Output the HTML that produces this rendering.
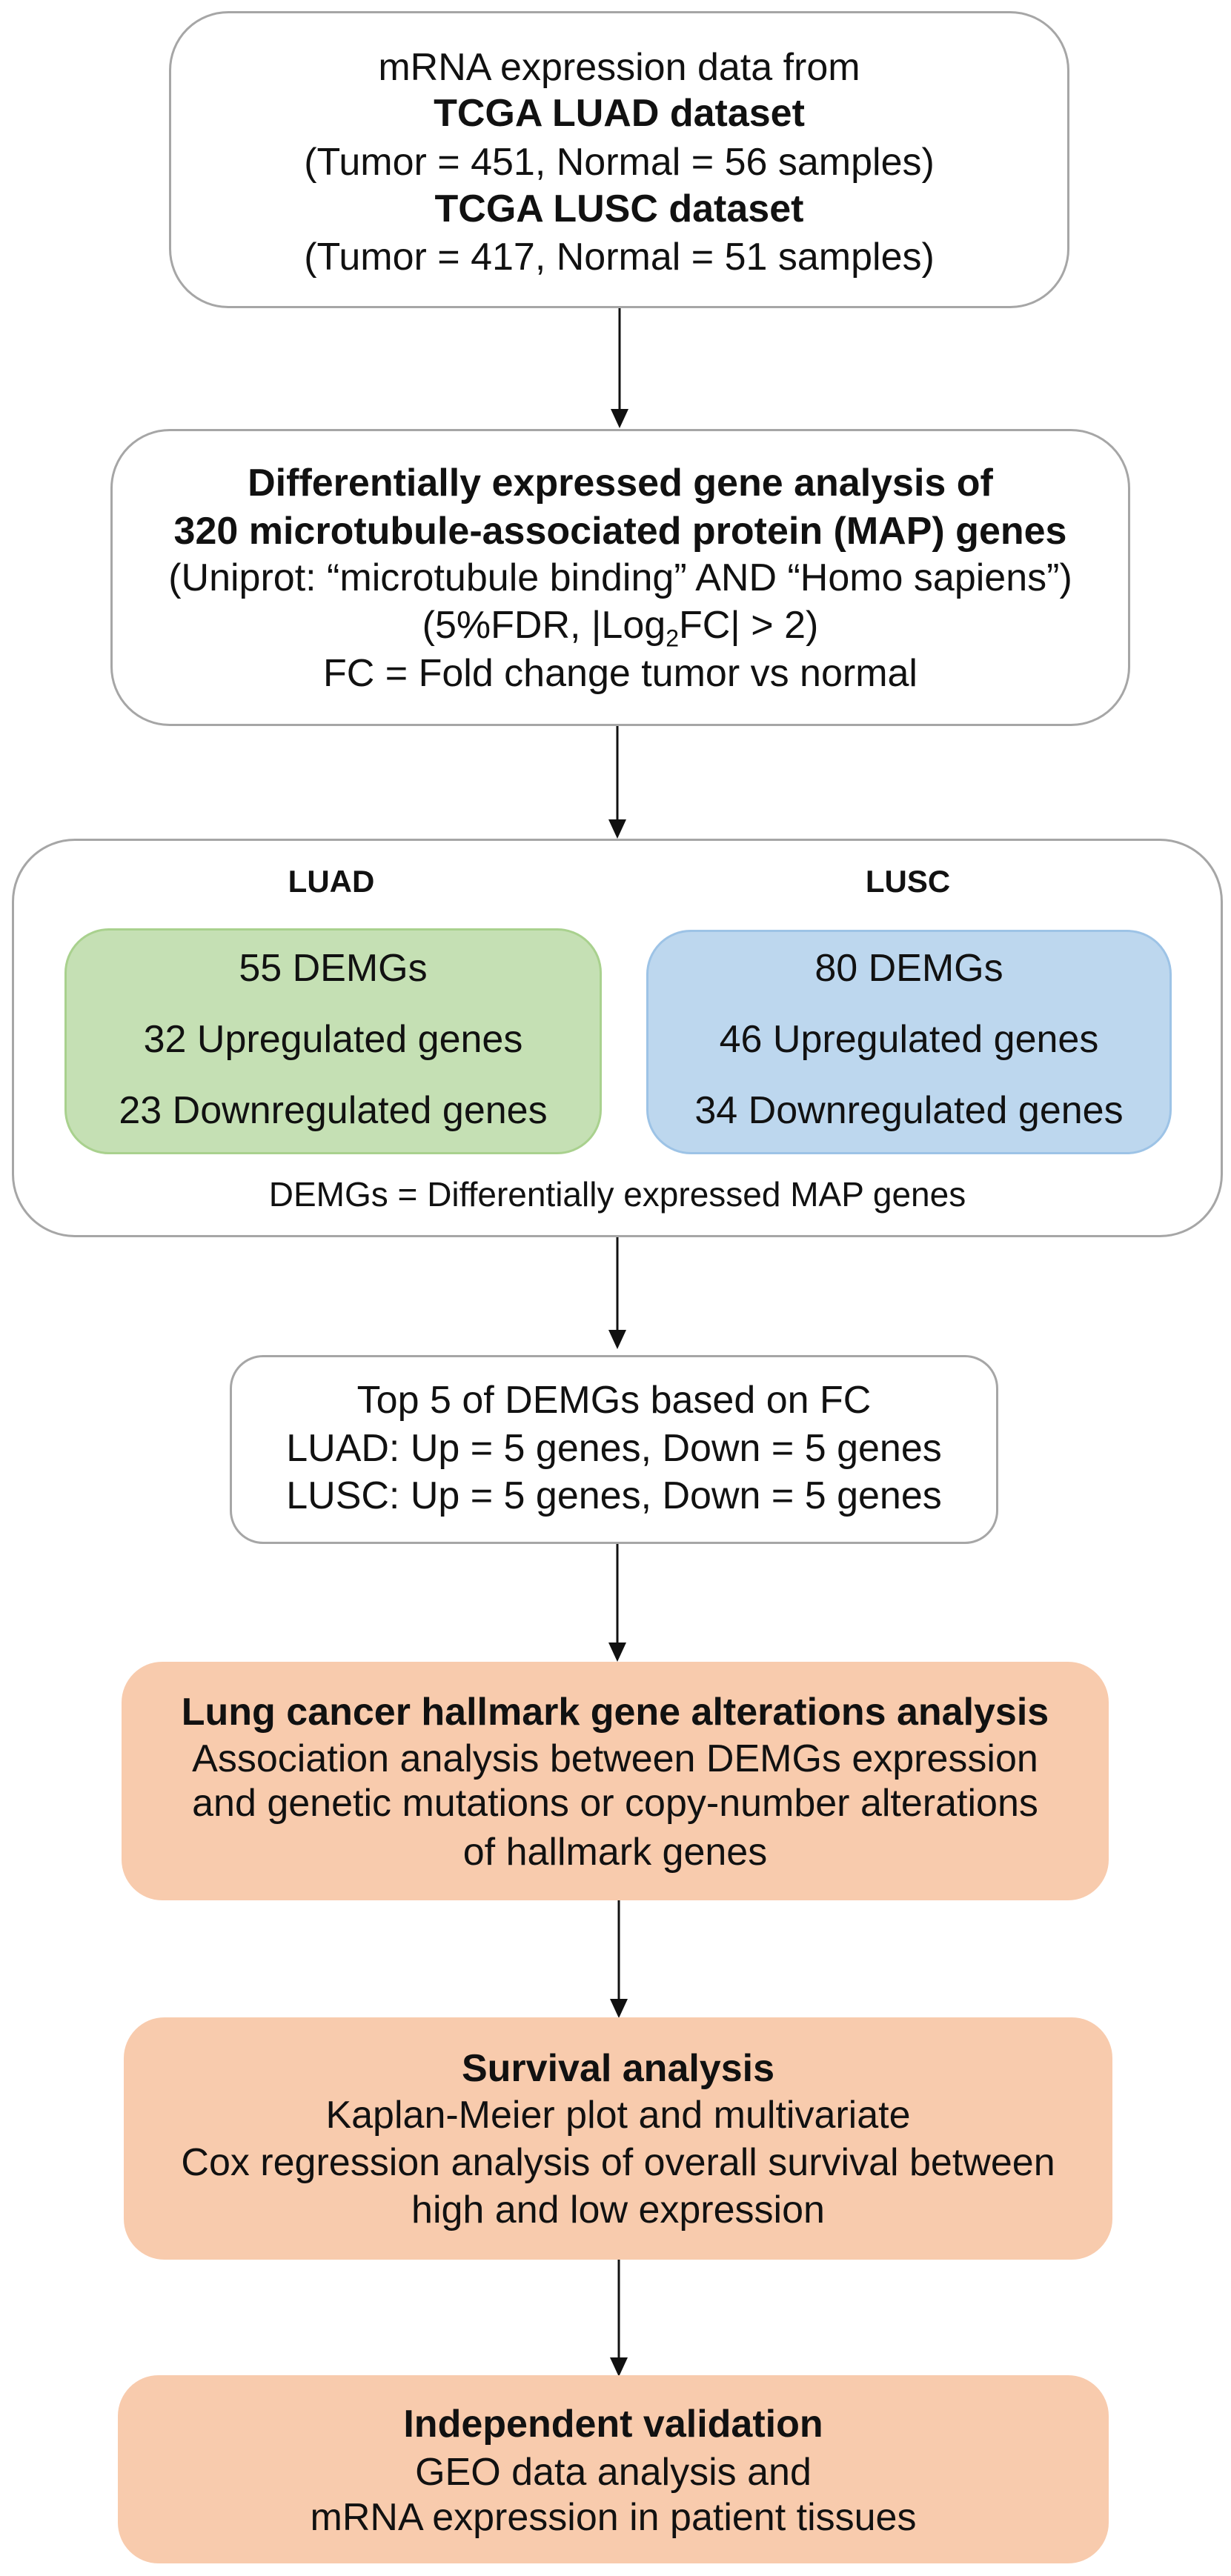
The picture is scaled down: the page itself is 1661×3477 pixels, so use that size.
<!DOCTYPE html>
<html><head><meta charset="utf-8"><style>
body{margin:0;width:1661px;height:3477px;background:#fff;position:relative;font-family:"Liberation Sans",Arial,sans-serif;color:#111;overflow:hidden}
.b{position:absolute;box-sizing:border-box}
.w{background:#fff;border:3px solid #a6a6a6}
.o{background:#f8cbad}
.t{position:absolute;text-align:center;height:64px;line-height:64px;font-size:52px;white-space:nowrap}
.bd{font-weight:bold}
</style></head><body>
<svg class="b" style="left:0;top:0" width="1661" height="3477">
<g stroke="#111" stroke-width="3">
<line x1="836" y1="416" x2="836" y2="555"/>
<line x1="833" y1="980" x2="833" y2="1108"/>
<line x1="833" y1="1670" x2="833" y2="1797"/>
<line x1="833" y1="2084" x2="833" y2="2219"/>
<line x1="835" y1="2565" x2="835" y2="2700"/>
<line x1="835" y1="3050" x2="835" y2="3185"/>
</g>
<g fill="#111">
<polygon points="824,552 848,552 836,578"/>
<polygon points="821,1106 845,1106 833,1132"/>
<polygon points="821,1795 845,1795 833,1821"/>
<polygon points="821,2217 845,2217 833,2243"/>
<polygon points="823,2698 847,2698 835,2724"/>
<polygon points="823,3182 847,3182 835,3208"/>
</g>
</svg>

<div class="b w" style="left:228px;top:15px;width:1215px;height:401px;border-radius:80px"></div>
<div class="t" style="left:228px;width:1215px;top:59px">mRNA expression data from</div>
<div class="t bd" style="left:228px;width:1215px;top:121px">TCGA LUAD dataset</div>
<div class="t" style="left:228px;width:1215px;top:187px">(Tumor = 451, Normal = 56 samples)</div>
<div class="t bd" style="left:228px;width:1215px;top:250px">TCGA LUSC dataset</div>
<div class="t" style="left:228px;width:1215px;top:315px">(Tumor = 417, Normal = 51 samples)</div>

<div class="b w" style="left:149px;top:579px;width:1376px;height:401px;border-radius:80px"></div>
<div class="t bd" style="left:149px;width:1376px;top:620px">Differentially expressed gene analysis of</div>
<div class="t bd" style="left:149px;width:1376px;top:685px">320 microtubule-associated protein (MAP) genes</div>
<div class="t" style="left:149px;width:1376px;top:748px">(Uniprot: “microtubule binding” AND “Homo sapiens”)</div>
<div class="t" style="left:149px;width:1376px;top:812px">(5%FDR, |Log<sub style="font-size:32px;line-height:0">2</sub>FC| &gt; 2)</div>
<div class="t" style="left:149px;width:1376px;top:877px">FC = Fold change tumor vs normal</div>

<div class="b w" style="left:16px;top:1132px;width:1634px;height:538px;border-radius:85px"></div>
<div class="t bd" style="left:247px;width:400px;top:1158px;font-size:42px">LUAD</div>
<div class="t bd" style="left:1025px;width:400px;top:1158px;font-size:42px">LUSC</div>
<div class="b" style="left:87px;top:1253px;width:725px;height:305px;border-radius:60px;background:#c5e0b4;border:3px solid #a9d18e"></div>
<div class="b" style="left:872px;top:1255px;width:709px;height:303px;border-radius:60px;background:#bdd7ee;border:3px solid #9dc3e6"></div>
<div class="t" style="left:87px;width:725px;top:1275px">55 DEMGs</div>
<div class="t" style="left:87px;width:725px;top:1371px">32 Upregulated genes</div>
<div class="t" style="left:87px;width:725px;top:1467px">23 Downregulated genes</div>
<div class="t" style="left:872px;width:709px;top:1275px">80 DEMGs</div>
<div class="t" style="left:872px;width:709px;top:1371px">46 Upregulated genes</div>
<div class="t" style="left:872px;width:709px;top:1467px">34 Downregulated genes</div>
<div class="t" style="left:16px;width:1634px;top:1580px;font-size:46px">DEMGs = Differentially expressed MAP genes</div>

<div class="b w" style="left:310px;top:1829px;width:1037px;height:255px;border-radius:45px"></div>
<div class="t" style="left:310px;width:1037px;top:1858px">Top 5 of DEMGs based on FC</div>
<div class="t" style="left:310px;width:1037px;top:1923px">LUAD: Up = 5 genes, Down = 5 genes</div>
<div class="t" style="left:310px;width:1037px;top:1987px">LUSC: Up = 5 genes, Down = 5 genes</div>

<div class="b o" style="left:164px;top:2243px;width:1332px;height:322px;border-radius:55px"></div>
<div class="t bd" style="left:164px;width:1332px;top:2279px">Lung cancer hallmark gene alterations analysis</div>
<div class="t" style="left:164px;width:1332px;top:2342px">Association analysis between DEMGs expression</div>
<div class="t" style="left:164px;width:1332px;top:2402px">and genetic mutations or copy-number alterations</div>
<div class="t" style="left:164px;width:1332px;top:2468px">of hallmark genes</div>

<div class="b o" style="left:167px;top:2723px;width:1334px;height:327px;border-radius:55px"></div>
<div class="t bd" style="left:167px;width:1334px;top:2760px">Survival analysis</div>
<div class="t" style="left:167px;width:1334px;top:2823px">Kaplan-Meier plot and multivariate</div>
<div class="t" style="left:167px;width:1334px;top:2887px">Cox regression analysis of overall survival between</div>
<div class="t" style="left:167px;width:1334px;top:2951px">high and low expression</div>

<div class="b o" style="left:159px;top:3206px;width:1337px;height:254px;border-radius:55px"></div>
<div class="t bd" style="left:159px;width:1337px;top:3240px">Independent validation</div>
<div class="t" style="left:159px;width:1337px;top:3305px">GEO data analysis and</div>
<div class="t" style="left:159px;width:1337px;top:3366px">mRNA expression in patient tissues</div>
</body></html>
